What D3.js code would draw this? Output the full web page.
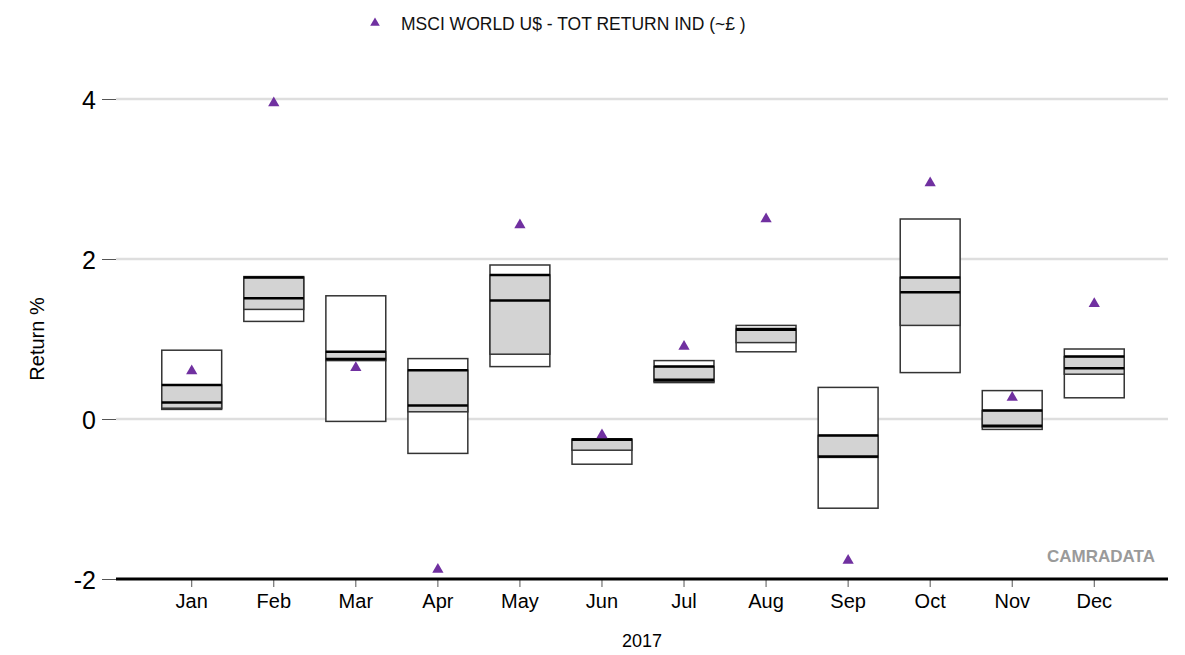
<!DOCTYPE html>
<html>
<head>
<meta charset="utf-8">
<script src="https://cdn.jsdelivr.net/npm/d3@7"></script>
<style>
  body { margin: 0; background: #fff; }
  text { font-family: "Liberation Sans", Arial, sans-serif; }
</style>
</head>
<body>
<svg id="chart"></svg>
<script>
const months = ['Jan', 'Feb', 'Mar', 'Apr', 'May', 'Jun', 'Jul', 'Aug', 'Sep', 'Oct', 'Nov', 'Dec'];
// percentile ranges of the peer group
const p5  = [0.12, 1.22, -0.03, -0.43, 0.655, -0.565, 0.455, 0.84, -1.115, 0.58, -0.13, 0.265];
const p25 = [0.135, 1.37, 0.73, 0.09, 0.81, -0.39, 0.47, 0.955, -0.48, 1.17, -0.10, 0.56];
const p50 = [0.205, 1.51, 0.75, 0.17, 1.48, -0.26, 0.49, 1.115, -0.47, 1.585, -0.085, 0.635];
const p75 = [0.425, 1.77, 0.84, 0.61, 1.80, -0.255, 0.655, 1.125, -0.205, 1.77, 0.105, 0.78];
const p95 = [0.86, 1.78, 1.54, 0.755, 1.925, -0.25, 0.73, 1.17, 0.395, 2.50, 0.355, 0.875];
const indexReturns = [0.60, 3.95, 0.64, -1.88, 2.425, -0.20, 0.905, 2.50, -1.77, 2.95, 0.27, 1.44];
const yTicks = [-2, 0, 2, 4];
const seriesName = 'MSCI WORLD U$ - TOT RETURN IND (~£ )';

const width = 1185;
const height = 655;
const margin = { top: 59, right: 17, bottom: 76, left: 116 };

const svg = d3.select('#chart')
  .attr('width', width)
  .attr('height', height);

const data = months.map((m, i) => ({
  month: m, p5: p5[i], p25: p25[i], p50: p50[i], p75: p75[i], p95: p95[i], idx: indexReturns[i]
}));

const xScale = d3.scaleBand()
  .domain(months)
  .range([150.7, 1135.3])
  .paddingInner(0.27)
  .paddingOuter(0.135);

const yScale = d3.scaleLinear()
  .domain([-2, 4.5])
  .range([height - margin.bottom, margin.top]);

// gridlines
svg.append('g')
  .selectAll('line')
  .data(yTicks.filter(t => t !== -2))
  .enter().append('line')
  .attr('x1', margin.left)
  .attr('x2', width - margin.right)
  .attr('y1', d => yScale(d))
  .attr('y2', d => yScale(d))
  .attr('stroke', '#dedede')
  .attr('stroke-width', 2.5);

// y axis
const yAxis = svg.append('g')
  .attr('transform', `translate(${margin.left},0)`)
  .call(d3.axisLeft(yScale).tickValues(yTicks).tickSize(14).tickPadding(6).tickFormat(d => String(d)));
yAxis.select('.domain').remove();
yAxis.attr('font-size', null).attr('font-family', null);
yAxis.selectAll('line').attr('stroke', '#555').attr('stroke-width', 1);
yAxis.selectAll('text')
  .style('font-size', '25px')
  .attr('fill', '#000')
  .attr('dy', '0.36em');

// x axis
const xAxis = svg.append('g')
  .attr('transform', `translate(0,${yScale(-2)})`)
  .call(d3.axisBottom(xScale).tickSize(8).tickPadding(7));
xAxis.select('.domain').remove();
xAxis.attr('font-size', null).attr('font-family', null);
xAxis.selectAll('line').attr('stroke', '#555').attr('stroke-width', 1);
xAxis.selectAll('text')
  .style('font-size', '20px')
  .attr('fill', '#000');

svg.append('line')
  .attr('x1', margin.left)
  .attr('x2', width - margin.right)
  .attr('y1', yScale(-2))
  .attr('y2', yScale(-2))
  .attr('stroke', '#000')
  .attr('stroke-width', 3);

// floating boxes
const boxes = svg.append('g')
  .selectAll('.box')
  .data(data)
  .enter().append('g')
  .attr('class', 'box')
  .attr('transform', d => `translate(${xScale(d.month)},0)`);

const bw = xScale.bandwidth();

boxes.append('rect')
  .attr('x', 0)
  .attr('width', bw)
  .attr('y', d => yScale(d.p95))
  .attr('height', d => yScale(d.p5) - yScale(d.p95))
  .attr('fill', '#fff')
  .attr('stroke', '#333')
  .attr('stroke-width', 1.5);

boxes.append('rect')
  .attr('x', 0)
  .attr('width', bw)
  .attr('y', d => yScale(d.p75))
  .attr('height', d => yScale(d.p25) - yScale(d.p75))
  .attr('fill', '#d3d3d3')
  .attr('stroke', '#333')
  .attr('stroke-width', 1.5);

boxes.append('line')
  .attr('x1', 0)
  .attr('x2', bw)
  .attr('y1', d => yScale(d.p75))
  .attr('y2', d => yScale(d.p75))
  .attr('stroke', '#000')
  .attr('stroke-width', 2.5);

boxes.append('line')
  .attr('x1', 0)
  .attr('x2', bw)
  .attr('y1', d => yScale(d.p50))
  .attr('y2', d => yScale(d.p50))
  .attr('stroke', '#000')
  .attr('stroke-width', 2.5);

// index points
const triangle = d3.symbol().type(d3.symbolTriangle).size(55);
svg.append('g')
  .selectAll('path')
  .data(data)
  .enter().append('path')
  .attr('d', triangle)
  .attr('transform', d => `translate(${xScale(d.month) + bw / 2},${yScale(d.idx)})`)
  .attr('fill', '#7030a0');

// legend
svg.append('path')
  .attr('d', d3.symbol().type(d3.symbolTriangle).size(40))
  .attr('transform', 'translate(375,23)')
  .attr('fill', '#7030a0');

svg.append('text')
  .attr('x', 401)
  .attr('y', 30)
  .style('font-size', '17.5px')
  .attr('fill', '#111')
  .text(seriesName);

// axis titles
svg.append('text')
  .attr('transform', 'rotate(-90)')
  .attr('x', -339)
  .attr('y', 44)
  .attr('text-anchor', 'middle')
  .style('font-size', '20px')
  .text('Return %');

svg.append('text')
  .attr('x', 642)
  .attr('y', 647)
  .attr('text-anchor', 'middle')
  .style('font-size', '18px')
  .text('2017');

svg.append('text')
  .attr('x', 1155)
  .attr('y', 562)
  .attr('text-anchor', 'end')
  .style('font-size', '17px')
  .style('font-weight', 'bold')
  .attr('fill', '#9a9a9a')
  .text('CAMRADATA');
</script>
</body>
</html>
